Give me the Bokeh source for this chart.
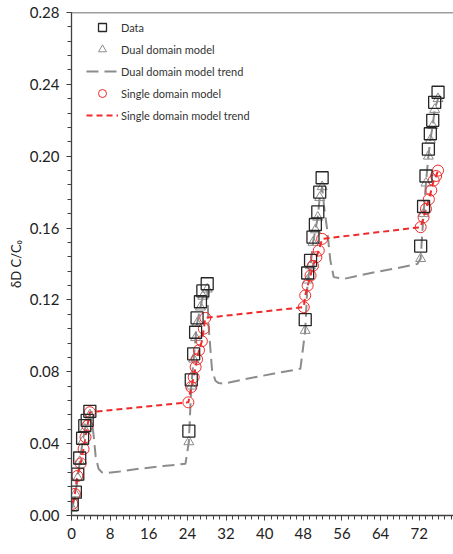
from bokeh.plotting import figure
from bokeh.models import Range1d, FixedTicker, Legend, LegendItem, Span, PrintfTickFormatter
from bokeh.embed import file_html
from bokeh.resources import INLINE

# ---- data ----
data_t = [0.15, 0.8, 1.3, 1.7, 2.3, 2.75, 3.25, 3.8,
          24.3, 24.8, 25.3, 25.7, 26.0, 26.7, 27.2, 28.1,
          48.4, 48.9, 49.5, 50.0, 50.5, 51.0, 51.4, 51.9,
          72.3, 72.9, 73.4, 73.9, 74.3, 74.8, 75.2, 75.9]
data_y = [0.006, 0.013, 0.023, 0.032, 0.043, 0.050, 0.053, 0.058,
          0.047, 0.0755, 0.090, 0.102, 0.110, 0.119, 0.125, 0.129,
          0.109, 0.135, 0.142, 0.155, 0.162, 0.169, 0.180, 0.188,
          0.150, 0.172, 0.189, 0.204, 0.2125, 0.220, 0.230, 0.2356]
dual_y = [0.004, 0.012, 0.021, 0.030, 0.041, 0.048, 0.052, 0.056,
          0.041, 0.072, 0.087, 0.099, 0.107, 0.116, 0.122, 0.126,
          0.103, 0.131, 0.139, 0.152, 0.159, 0.166, 0.177, 0.183,
          0.143, 0.168, 0.185, 0.200, 0.209, 0.217, 0.226, 0.232]

dual_trend_t = [0.15, 0.8, 1.3, 1.7, 2.3, 2.75, 3.25, 3.8, 4.3, 4.6, 5.0, 5.6, 6.3, 7.0,
                10, 14, 19, 23.6,
                24.3, 24.8, 25.3, 25.7, 26.0, 26.7, 27.2, 28.1, 28.4, 29.1, 29.8, 30.5, 31.5,
                36, 42, 47.4,
                48.4, 48.9, 49.5, 50.0, 50.5, 51.0, 51.4, 51.9, 52.3, 52.9, 53.6, 54.3, 56.4,
                62, 67, 71.6,
                72.3, 72.9, 73.4, 73.9, 74.3, 74.8, 75.2, 75.9]
dual_trend_y = [0.004, 0.012, 0.021, 0.030, 0.041, 0.048, 0.052, 0.056, 0.051, 0.044, 0.033, 0.026, 0.024, 0.0236,
                0.0245, 0.026, 0.0275, 0.0288,
                0.041, 0.072, 0.087, 0.099, 0.107, 0.116, 0.122, 0.126, 0.105, 0.081, 0.075, 0.0737, 0.0733,
                0.076, 0.079, 0.0817,
                0.103, 0.131, 0.139, 0.152, 0.159, 0.166, 0.177, 0.183, 0.172, 0.160, 0.142, 0.1327, 0.1317,
                0.135, 0.1375, 0.140,
                0.143, 0.168, 0.185, 0.200, 0.209, 0.217, 0.226, 0.232]

single_t = [0.2, 0.7, 1.2, 1.9, 2.5, 2.9, 3.3, 3.8,
            24.2, 24.8, 25.3, 25.7, 26.0, 26.4, 27.0, 27.4, 27.7,
            48.1, 48.4, 48.9, 49.5, 50.0, 50.7, 51.2, 51.9,
            72.3, 72.9, 73.4, 74.0, 74.5, 75.0, 75.5, 75.9]
single_y = [0.0065, 0.012, 0.022, 0.029, 0.037, 0.0436, 0.050, 0.0575,
            0.063, 0.0715, 0.077, 0.0826, 0.087, 0.092, 0.097, 0.104, 0.110,
            0.116, 0.1225, 0.128, 0.1336, 0.139, 0.1438, 0.1475, 0.154,
            0.1605, 0.166, 0.1707, 0.176, 0.181, 0.1865, 0.189, 0.192]

x_ticks = [0, 8, 16, 24, 32, 40, 48, 56, 64, 72, 80]
y_ticks = [0.0, 0.04, 0.08, 0.12, 0.16, 0.20, 0.24, 0.28]
y_label = "δD C/C₀"
legend_labels = ["Data", "Dual domain model", "Dual domain model trend",
                 "Single domain model", "Single domain model trend"]

FONT = "Lato"
AX = "#404040"
RED = "#f02a2a"
GRAY = "#8c8c8c"

p = figure(width=453, height=554, output_backend="svg", toolbar_location=None,
           x_range=Range1d(0, 79.1), y_range=Range1d(0, 0.28),
           min_border_left=71, min_border_right=0, min_border_top=12, min_border_bottom=39)
p.outline_line_color = None
p.grid.visible = False

p.xaxis.ticker = FixedTicker(ticks=x_ticks, minor_ticks=[i * 4 / 3 for i in range(0, 61)])
p.yaxis.ticker = FixedTicker(ticks=y_ticks, minor_ticks=[i * 0.008 for i in range(0, 36)])
p.yaxis.formatter = PrintfTickFormatter(format="%.2f")
for ax in (p.xaxis[0], p.yaxis[0]):
    ax.axis_line_color = AX
    ax.axis_line_width = 1.3
    ax.major_tick_line_color = AX
    ax.minor_tick_line_color = AX
    ax.major_tick_in = 0
    ax.minor_tick_in = 0
    ax.major_label_text_font = FONT
    ax.major_label_text_font_size = "15px"
    ax.major_label_text_color = "#222222"
p.yaxis.major_tick_out = 5
p.yaxis.minor_tick_out = 4
p.yaxis.major_label_standoff = 7
p.xaxis.major_tick_out = 5
p.xaxis.minor_tick_out = 4
p.xaxis.major_label_standoff = 7
p.yaxis.axis_label = y_label
p.yaxis.axis_label_text_font = FONT
p.yaxis.axis_label_text_font_style = "normal"
p.yaxis.axis_label_text_font_size = "13px"
p.yaxis.axis_label_text_color = "#222222"
p.yaxis.axis_label_standoff = 3

p.add_layout(Span(location=0.28, dimension="width", line_color=AX, line_width=1.3))

r_dt = p.line(dual_trend_t, dual_trend_y, line_color=GRAY, line_width=2, line_dash="12 6")
r_st = p.line(single_t, single_y, line_color=RED, line_width=2, line_dash="6 4")
r_tri = p.scatter(data_t, dual_y, marker="triangle", size=10, fill_color=None,
                  line_color=GRAY, line_width=1)
r_cir = p.scatter(single_t, single_y, marker="circle", size=11, fill_color=None,
                  line_color=RED, line_width=1)
r_sq = p.scatter(data_t, data_y, marker="square", size=12, fill_color=None,
                 line_color="#262626", line_width=1.3)

legend = Legend(items=[LegendItem(label=legend_labels[0], renderers=[r_sq]),
                       LegendItem(label=legend_labels[1], renderers=[r_tri]),
                       LegendItem(label=legend_labels[2], renderers=[r_dt]),
                       LegendItem(label=legend_labels[3], renderers=[r_cir]),
                       LegendItem(label=legend_labels[4], renderers=[r_st])],
                location=(15, 390), padding=0, margin=0, spacing=2,
                glyph_width=32, glyph_height=20, label_height=20, label_standoff=3,
                label_text_font=FONT, label_text_font_size="11px", label_text_color="#333333",
                background_fill_alpha=0, border_line_color=None)
p.add_layout(legend)

open("out.html", "w").write(file_html(p, INLINE))
